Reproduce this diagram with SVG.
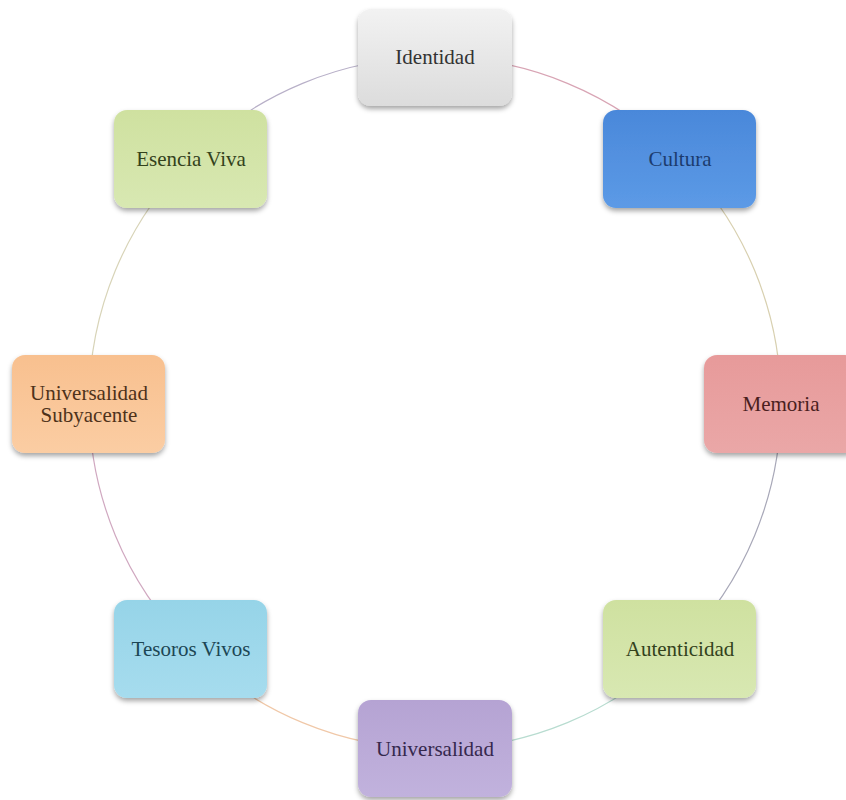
<svg xmlns="http://www.w3.org/2000/svg" width="846" height="800" viewBox="0 0 846 800">
<defs>
<filter id="sh" x="-20%" y="-20%" width="140%" height="150%">
<feDropShadow dx="0" dy="3" stdDeviation="2.5" flood-color="#000" flood-opacity="0.35"/>
</filter>
<linearGradient id="gI" x1="0" y1="0" x2="0" y2="1"><stop offset="0" stop-color="#f2f2f2"/><stop offset="1" stop-color="#dcdcdc"/></linearGradient>
<linearGradient id="gC" x1="0" y1="0" x2="0" y2="1"><stop offset="0" stop-color="#4a88da"/><stop offset="1" stop-color="#5c9ae6"/></linearGradient>
<linearGradient id="gM" x1="0" y1="0" x2="0" y2="1"><stop offset="0" stop-color="#e79a9a"/><stop offset="1" stop-color="#eaa7a7"/></linearGradient>
<linearGradient id="gG" x1="0" y1="0" x2="0" y2="1"><stop offset="0" stop-color="#cfe1a0"/><stop offset="1" stop-color="#d8e8b2"/></linearGradient>
<linearGradient id="gU" x1="0" y1="0" x2="0" y2="1"><stop offset="0" stop-color="#b5a3d3"/><stop offset="1" stop-color="#c1b2dd"/></linearGradient>
<linearGradient id="gT" x1="0" y1="0" x2="0" y2="1"><stop offset="0" stop-color="#96d4e8"/><stop offset="1" stop-color="#a6dcee"/></linearGradient>
<linearGradient id="gS" x1="0" y1="0" x2="0" y2="1"><stop offset="0" stop-color="#f8c08f"/><stop offset="1" stop-color="#fbcda3"/></linearGradient>
</defs>
<style>
.box{filter:url(#sh);}
.lbl{font-family:"Liberation Serif","Times New Roman",serif;font-size:21px;text-anchor:middle;dominant-baseline:central;}
.arc{fill:none;stroke-width:1.2;}
</style>
<g id="connectors">
<path class="arc" stroke="#d8a4b4" d="M435,57 A346,346 0 0 1 679.66,158.34"/>
<path class="arc" stroke="#d8d0b0" d="M679.66,158.34 A346,346 0 0 1 781,403"/>
<path class="arc" stroke="#a8a8b8" d="M781,403 A346,346 0 0 1 679.66,647.66"/>
<path class="arc" stroke="#b8dcd0" d="M679.66,647.66 A346,346 0 0 1 435,749"/>
<path class="arc" stroke="#f0c8a8" d="M435,749 A346,346 0 0 1 190.34,647.66"/>
<path class="arc" stroke="#d0a8c0" d="M190.34,647.66 A346,346 0 0 1 89,403"/>
<path class="arc" stroke="#d8d4b8" d="M89,403 A346,346 0 0 1 190.34,158.34"/>
<path class="arc" stroke="#b8b0c8" d="M190.34,158.34 A346,346 0 0 1 435,57"/>
</g>
<g id="identidad">
<rect class="box" x="358" y="9" width="154" height="97" rx="13" fill="url(#gI)"/>
<text class="lbl" x="435" y="57" fill="#333333">Identidad</text>
</g>
<g id="cultura">
<rect class="box" x="603" y="110" width="153" height="98" rx="13" fill="url(#gC)"/>
<text class="lbl" x="680" y="159" fill="#1c3c6e">Cultura</text>
</g>
<g id="memoria">
<rect class="box" x="704" y="355" width="154" height="98" rx="13" fill="url(#gM)"/>
<text class="lbl" x="781" y="404" fill="#4a1e1e">Memoria</text>
</g>
<g id="autenticidad">
<rect class="box" x="603" y="600" width="153" height="98" rx="13" fill="url(#gG)"/>
<text class="lbl" x="680" y="649" fill="#33421c">Autenticidad</text>
</g>
<g id="universalidad">
<rect class="box" x="358" y="700" width="154" height="97" rx="13" fill="url(#gU)"/>
<text class="lbl" x="435" y="749" fill="#35284d">Universalidad</text>
</g>
<g id="tesoros-vivos">
<rect class="box" x="114" y="600" width="153" height="98" rx="13" fill="url(#gT)"/>
<text class="lbl" x="191" y="649" fill="#1c4654">Tesoros Vivos</text>
</g>
<g id="universalidad-subyacente">
<rect class="box" x="12" y="355" width="153" height="98" rx="13" fill="url(#gS)"/>
<text class="lbl" x="89" y="393" fill="#4e321a">Universalidad</text>
<text class="lbl" x="89" y="415" fill="#4e321a">Subyacente</text>
</g>
<g id="esencia-viva">
<rect class="box" x="114" y="110" width="153" height="98" rx="13" fill="url(#gG)"/>
<text class="lbl" x="191" y="159" fill="#33421c">Esencia Viva</text>
</g>
</svg>
